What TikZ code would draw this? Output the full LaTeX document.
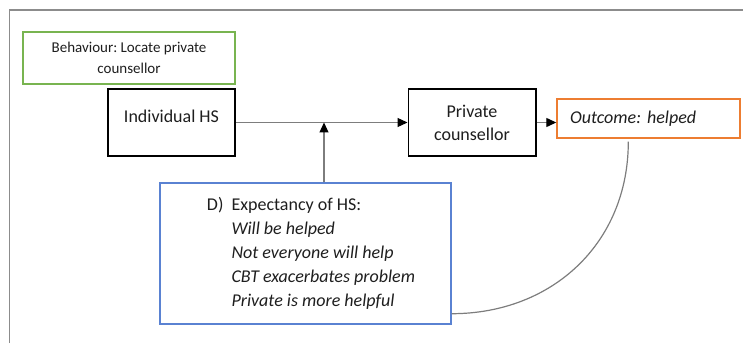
\documentclass[tikz,border=0pt]{standalone}
\usepackage{fontspec}
\setmainfont{Carlito}
\usetikzlibrary{arrows.meta,calc}
\definecolor{framegray}{RGB}{140,140,140}
\definecolor{linkgray}{RGB}{125,125,125}
\definecolor{txt}{RGB}{30,30,30}
\definecolor{behgreen}{RGB}{120,180,80}
\definecolor{outorange}{RGB}{237,125,49}
\definecolor{expblue}{RGB}{90,130,210}
\frenchspacing
\begin{document}
\begin{tikzpicture}[x=1pt,y=1pt,
  every node/.style={text=txt, inner sep=0pt},
  mainbox/.style={draw=black, line width=1.5pt, fill=white},
  greenbox/.style={draw=behgreen, line width=1.3pt},
  orangebox/.style={draw=outorange, line width=1.4pt},
  bluebox/.style={draw=expblue, line width=1.4pt},
  link/.style={draw=linkgray, line width=1.2pt},
  flow/.style={link, -{Triangle[length=10pt,width=9pt,color=black]}},
  bigtext/.style={font=\fontsize{18}{23}\selectfont},
]
\useasboundingbox (0,0) rectangle (743,343);
% open outer frame (top and left edges)
\draw[framegray, line width=1.5pt] (9.5,0) -- (9.5,333) -- (743,333);

% boxes
\node[greenbox, minimum width=212, minimum height=52, align=center,
      font=\fontsize{15}{21}\selectfont] (beh) at (129,285)
      {Behaviour: Locate private\\counsellor};
\node[mainbox, bigtext, minimum width=127, minimum height=67, text depth=13pt] (hs) at (171.5,220.5)
      {Individual HS};
\node[mainbox, bigtext, minimum width=127.5, minimum height=67, align=center] (pc) at (472,220.5)
      {Private\\counsellor};
\node[orangebox, bigtext, minimum height=39, text width=157, inner xsep=13pt, align=left] (out) at (648.5,224.5)
      {\itshape Outcome: helped};
\node[bluebox, minimum width=291, minimum height=141, font=\fontsize{18}{24}\selectfont] (exp) at (305.5,89.5)
      {\begin{tabular}{@{\hspace{11pt}}l@{\hspace{8pt}}l@{}}
        D) & Expectancy of HS:\\
           & \itshape Will be helped\\
           & \itshape Not everyone will help\\
           & \itshape CBT exacerbates problem\\
           & \itshape Private is more helpful
       \end{tabular}};

% connectors
\coordinate (j) at (324,220.5);
\draw[flow] (hs.east) -- (pc.west);
\draw[flow] (pc.east) -- (pc.east -| out.west);
\draw[flow] (exp.north -| j) -- (j);
\draw[link] ($(out.south west)+(72,-3)$) to[out=-90,in=0,looseness=1.05] ($(exp.south east)+(0,11)$);
\end{tikzpicture}
\end{document}
